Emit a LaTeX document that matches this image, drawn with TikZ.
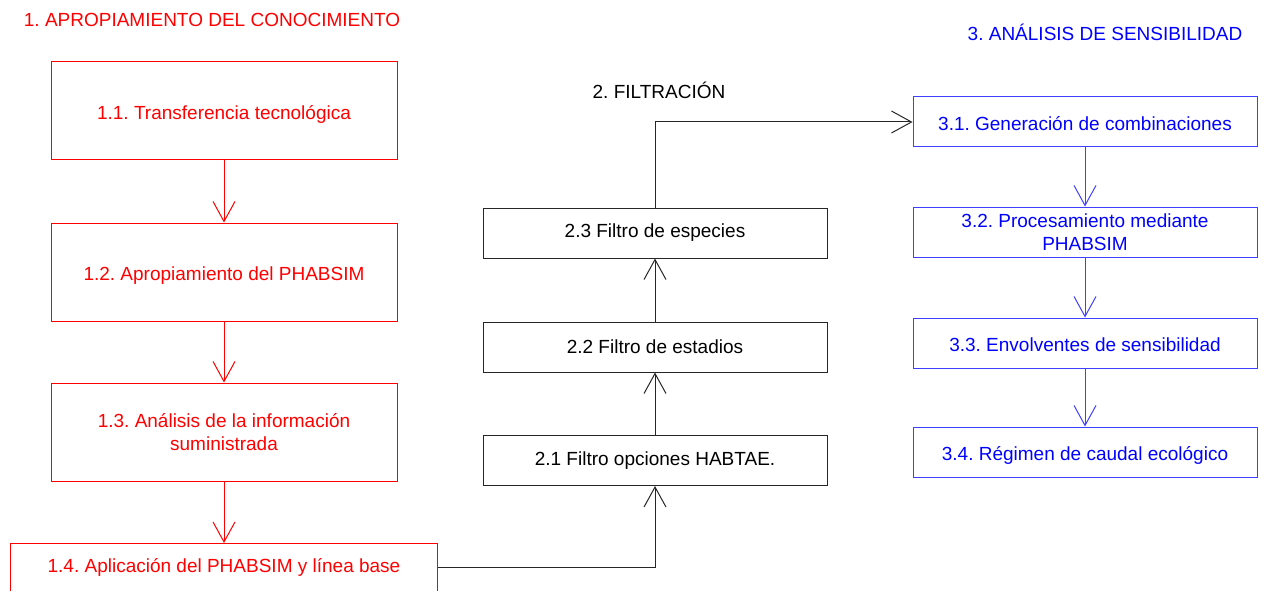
\documentclass[tikz,border=0pt]{standalone}
\usepackage{fontspec}
\setmainfont{Liberation Sans}
\usetikzlibrary{arrows.meta}
\frenchspacing
\definecolor{rd}{RGB}{255,0,0}
\definecolor{bl}{RGB}{0,0,255}
\tikzset{
  base/.style={font=\fontsize{19}{22.5}\selectfont, align=center, inner sep=0pt, line width=1pt},
  lowtext/.style={text height=17.6pt, text depth=0pt},
  redbox/.style={base, draw=rd, text=rd, minimum width=346pt, minimum height=98pt},
  blackbox/.style={base, draw=black!85, text=black, minimum width=344pt, minimum height=50pt},
  bluebox/.style={base, draw=bl!75, text=bl, minimum width=344pt, minimum height=50pt},
  ttl/.style={font=\fontsize{19}{22.5}\selectfont, inner sep=0pt},
  barb/.style={-{Straight Barb[length=20pt,width=22pt,line width=1pt]}, line width=1pt},
}
\begin{document}
\begin{tikzpicture}[x=1pt,y=-1pt]
\path[use as bounding box] (0,0) rectangle (1264,591);
\clip (0,0) rectangle (1264,591);
% titles
\node[ttl, text=rd] (t1) at (212,20) {1. APROPIAMIENTO DEL CONOCIMIENTO};
\node[ttl, text=black] (t2) at (659,90) {2. FILTRACIÓN};
\node[ttl, text=bl] (t3) at (1105,32) {3. ANÁLISIS DE SENSIBILIDAD};
% column 1
\node[redbox, lowtext] (n11) at (224,111) {1.1. Transferencia tecnológica};
\node[redbox, lowtext] (n12) at (224,272) {1.2. Apropiamiento del PHABSIM};
\node[redbox] (n13) at (224,432) {1.3. Análisis de la información\\suministrada};
\node[base, text=rd, minimum width=426pt, minimum height=48pt, anchor=north] (n14) at (224,543) {1.4. Aplicación del PHABSIM y línea base};
\draw[rd, line width=1pt] ([yshift=-4pt]n14.south west) |- (n14.north east) -- ([yshift=-4pt]n14.south east);
% column 2
\node[blackbox] (n23) at (655,233) {2.3 Filtro de especies};
\node[blackbox] (n22) at (655,347) {2.2 Filtro de estadios};
\node[blackbox] (n21) at (655,460.5) {2.1 Filtro opciones HABTAE.};
% column 3
\node[bluebox, lowtext] (n31) at (1085,122) {3.1. Generación de combinaciones};
\node[bluebox] (n32) at (1085,232) {3.2. Procesamiento mediante\\PHABSIM};
\node[bluebox, lowtext] (n33) at (1085,343) {3.3. Envolventes de sensibilidad};
\node[bluebox, lowtext] (n34) at (1085,452) {3.4. Régimen de caudal ecológico};
% connectors
\draw[barb, rd] (n11) -- (n12);
\draw[barb, rd] (n12) -- (n13);
\draw[barb, rd] (n13) -- (n14.north);
\draw[barb, black!85] (n14.east) -| (n21.south);
\draw[barb, black!85] (n21) -- (n22);
\draw[barb, black!85] (n22) -- (n23);
\draw[barb, black!85] (n23.north) |- (n31.west);
\draw[barb, bl!75] (n31) -- (n32);
\draw[barb, bl!75] (n32) -- (n33);
\draw[barb, bl!75] (n33) -- (n34);
\end{tikzpicture}
\end{document}
